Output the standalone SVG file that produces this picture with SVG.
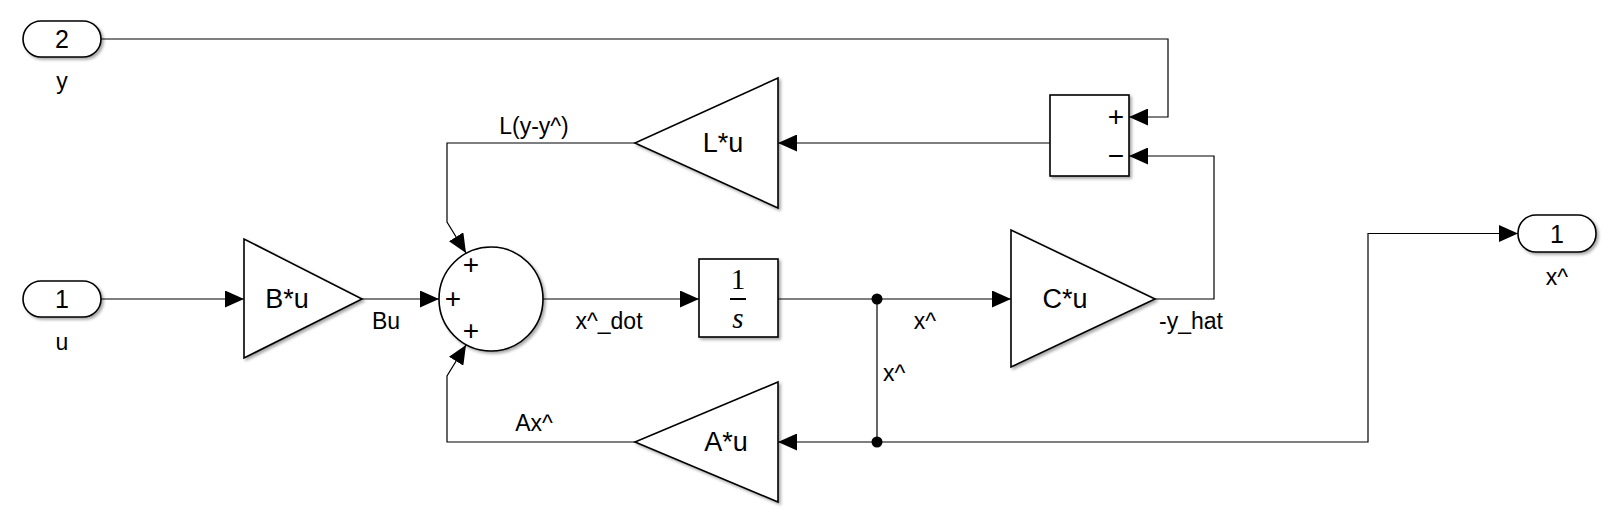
<svg xmlns="http://www.w3.org/2000/svg" width="1617" height="530" viewBox="0 0 1617 530">
<style>
.blk{fill:#fff;stroke:#000;stroke-width:1.6;filter:url(#sh)}
.ln{fill:none;stroke:#000;stroke-width:1.2}
.t{font-family:"Liberation Sans",Arial,sans-serif;fill:#000}
.gt{font-size:27px;text-anchor:middle;dominant-baseline:central}
.pt{font-size:25px;text-anchor:middle;dominant-baseline:central}
.lb{font-size:23px}
.sg{font-size:28px;text-anchor:middle;dominant-baseline:central}
.sf{font-family:"Liberation Serif","Times New Roman",serif;fill:#000;text-anchor:middle}
</style>
<defs>
<filter id="sh" x="-10%" y="-10%" width="130%" height="130%">
<feDropShadow dx="2" dy="2" stdDeviation="1.5" flood-color="#000" flood-opacity="0.35"/>
</filter>
<marker id="ar" viewBox="0 0 19 17" refX="19" refY="8.5" markerWidth="19" markerHeight="17" markerUnits="userSpaceOnUse" orient="auto">
<path d="M0,0 L19,8.5 L0,17 Z" fill="#000"/>
</marker>
</defs>
<rect width="1617" height="530" fill="#fff"/>

<g id="connectors">
<path class="ln" d="M101,39 H1168 V117 H1129" marker-end="url(#ar)"/>
<path class="ln" d="M1050,143 H778" marker-end="url(#ar)"/>
<path class="ln" d="M635,143 H447 V222 L466,253" marker-end="url(#ar)"/>
<path class="ln" d="M101,299 H244" marker-end="url(#ar)"/>
<path class="ln" d="M362,299 H439" marker-end="url(#ar)"/>
<path class="ln" d="M543,299 H699" marker-end="url(#ar)"/>
<path class="ln" d="M778,299 H1011" marker-end="url(#ar)"/>
<path class="ln" d="M877,299 V442"/>
<path class="ln" d="M877,442 H778" marker-end="url(#ar)"/>
<path class="ln" d="M877,442 H1368 V233.5 H1518" marker-end="url(#ar)"/>
<path class="ln" d="M1155,299 H1214 V156 H1129" marker-end="url(#ar)"/>
<path class="ln" d="M635,442 H447 V376 L466,345" marker-end="url(#ar)"/>
<circle cx="877" cy="299" r="5.5" fill="#000"/>
<circle cx="877" cy="442" r="5.5" fill="#000"/>
<text class="t lb" x="534" y="134" text-anchor="middle">L(y-y^)</text>
<text class="t lb" x="386" y="329" text-anchor="middle">Bu</text>
<text class="t lb" x="609" y="329" text-anchor="middle">x^_dot</text>
<text class="t lb" x="925" y="329" text-anchor="middle">x^</text>
<text class="t lb" x="883" y="381">x^</text>
<text class="t lb" x="1159" y="329">-y_hat</text>
<text class="t lb" x="534" y="431" text-anchor="middle">Ax^</text>
</g>

<g id="in2">
<rect class="blk" x="23" y="21" width="78" height="36" rx="18"/>
<text class="t pt" x="62" y="39">2</text>
<text class="t lb" x="62" y="89" text-anchor="middle">y</text>
</g>

<g id="in1">
<rect class="blk" x="23" y="281" width="78" height="36" rx="18"/>
<text class="t pt" x="62" y="299">1</text>
<text class="t lb" x="62" y="350" text-anchor="middle">u</text>
</g>

<g id="out1">
<rect class="blk" x="1518" y="215" width="78" height="37" rx="18"/>
<text class="t pt" x="1557" y="233.5">1</text>
<text class="t lb" x="1557" y="285" text-anchor="middle">x^</text>
</g>

<g id="gainB">
<polygon class="blk" points="244,239 244,358 362,299"/>
<text class="t gt" x="287" y="299">B*u</text>
</g>

<g id="sum1">
<circle class="blk" cx="491" cy="299" r="52"/>
<text class="t sg" x="453" y="298">+</text>
<text class="t sg" x="471" y="264">+</text>
<text class="t sg" x="471" y="330">+</text>
</g>

<g id="integrator">
<rect class="blk" x="699" y="259" width="79" height="78"/>
<text class="sf" x="738" y="289" font-size="29">1</text>
<line x1="730" y1="299" x2="746" y2="299" stroke="#000" stroke-width="2"/>
<text class="sf" x="738" y="328" font-size="29" font-style="italic">s</text>
</g>

<g id="gainC">
<polygon class="blk" points="1011,230 1011,367 1155,299"/>
<text class="t gt" x="1065" y="299">C*u</text>
</g>

<g id="gainL">
<polygon class="blk" points="778,78 778,208 635,143"/>
<text class="t gt" x="723" y="143">L*u</text>
</g>

<g id="gainA">
<polygon class="blk" points="778,382 778,502 635,442"/>
<text class="t gt" x="726" y="442">A*u</text>
</g>

<g id="sum2">
<rect class="blk" x="1050" y="95" width="79" height="81"/>
<text class="t sg" x="1116" y="116">+</text>
<text class="t sg" x="1116" y="155">−</text>
</g>
</svg>
